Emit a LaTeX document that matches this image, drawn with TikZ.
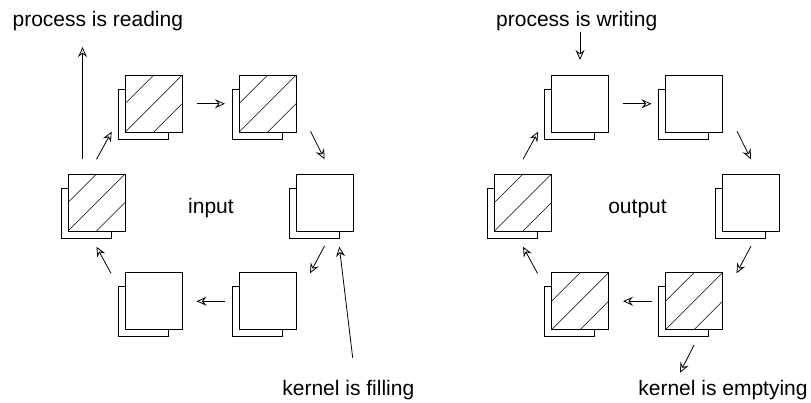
\documentclass[tikz,border=0pt]{standalone}
\usepackage{fontspec}
\setmainfont{Liberation Sans}
\usetikzlibrary{arrows.meta}
\begin{document}
\begin{tikzpicture}[x=1pt, y=1pt, line width=0.9pt,
    font=\fontsize{21}{25}\selectfont,
    buf/.style={draw, fill=white, minimum size=57pt, inner sep=0pt, outer sep=0pt},
    bufback/.style={draw, fill=white, minimum size=50pt, inner sep=0pt, outer sep=0pt},
    flow/.style={-{Stealth[open, length=10pt, width=9pt, inset=3.5pt]}, line width=0.8pt},
    txt/.style={inner sep=0pt, anchor=base}]
  \useasboundingbox (0,0) rectangle (811,402);
  % Buffer rings (input left, output right)
  \foreach \b/\cx in {in/210.5, ot/637} {
    \foreach \i/\ang in {1/120, 2/60, 3/0, 4/-60, 5/-120, 6/180} {
      \node[bufback] at ([shift={(\ang:114)}] \cx-10.5, 189) {};
      \node[buf] (\b\i) at ([shift={(\ang:114)}] \cx, 199.5) {};
    }
  }
  % Full buffers
  \foreach \n in {in1, in2, in6, ot4, ot5, ot6}
    \draw[line width=0.6pt] (\n.west) -- (\n.north) (\n.south west) -- (\n.north east)
      (\n.south) -- (\n.east);
  % Ring labels
  \node[txt] (inlbl) at (211, 188) {input};
  \node[txt] (otlbl) at (637.5, 188.5) {output};
  % Process and kernel labels
  \node[txt] (rd) at (97.8, 375.3) {process is reading};
  \node[txt] (wr) at (576.7, 375.3) {process is writing};
  \node[txt] (fl) at (348.3, 6.5) {kernel is filling};
  \node[txt] (em) at (723, 6.5) {kernel is emptying};
  % Ring arrows
  \foreach \b in {in, ot} {
    \draw[flow, shorten <=14.5pt, shorten >=14pt] (\b1) -- (\b2);
    \draw[flow] ([shift={(14.5,1)}]\b2.south east) -- ([shift={(0,14.7)}]\b3.north);
    \draw[flow] ([shift={(0,-15)}]\b3.south) -- ([shift={(14,-0.6)}]\b4.north east);
    \draw[flow, shorten <=14pt, shorten >=14.5pt] (\b4) -- (\b5);
    \draw[flow] ([shift={(-14,-0.6)}]\b5.north west) -- ([shift={(0,-15.7)}]\b6.south);
    \draw[flow] ([shift={(0,14.7)}]\b6.north) -- ([shift={(-13.3,0.6)}]\b1.south west);
  }
  % Process and kernel arrows
  \draw[flow, shorten >=15.6pt] ([shift={(-14,14.7)}]in6.north) coordinate (rdfrom)
    -- (rdfrom |- rd.south);
  \draw[flow] (wr.south -| ot1.north) -- ([yshift=15.3]ot1.north);
  \draw[flow] ([shift={(4.4,22)}]fl.north) -- ([shift={(14.8,-15.7)}]in3.south);
  \draw[flow] ([shift={(0,-15.3)}]ot4.south) -- ++(-14,-27.7);
\end{tikzpicture}
\end{document}
